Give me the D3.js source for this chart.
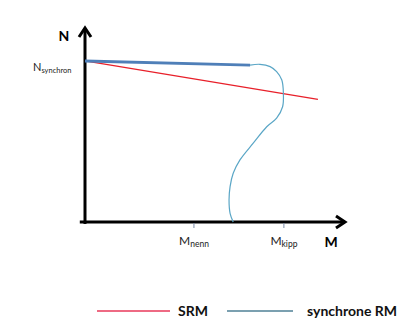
<!DOCTYPE html>
<html><head><meta charset="utf-8">
<script src="https://cdn.jsdelivr.net/npm/d3@7"></script>
<style>body{margin:0;background:#fff}text{font-family:Lato,"Open Sans",sans-serif}</style>
</head><body><div id="c"></div>
<script>
// Data (abstract units: M on x 0..100, N on y 0..100)
const nSynchron = 83;
const xTicks = [{v:41.9, main:"M", sub:"nenn"}, {v:76.5, main:"M", sub:"kipp"}];
const srmX = [0, 89.6];
const srmY = [83, 63.2];
const syncLineX = [0, 63.5];
const syncLineY = [83, 80.9];
const syncCurveX = [63.5,67.3,71.2,73.7,75.7,76.3,76.0,73.7,69.9,64.7,59.6,57.0,55.8,55.4,55.8,57.0];
const syncCurveY = [80.9,81.3,80.1,77.5,73.2,66.3,59.4,53.5,49.1,40.6,32.0,25.1,18.2,11.3,4.5,0];
const legendLabels = ["SRM","synchrone RM"];

const W=420,H=323;
const svg=d3.select("#c").append("svg").attr("width",W).attr("height",H);
const x=d3.scaleLinear().domain([0,100]).range([85,345]);
const y=d3.scaleLinear().domain([0,100]).range([222,28]);

// axes
svg.append("line").attr("x1",x(-2)).attr("x2",x(100)).attr("y1",y(0)).attr("y2",y(0)).attr("stroke","#000").attr("stroke-width",3);
svg.append("line").attr("x1",x(0)).attr("x2",x(0)).attr("y1",y(-1)).attr("y2",y(100)).attr("stroke","#000").attr("stroke-width",3);
svg.append("path").attr("d",`M${x(100)-9},${y(0)-6}L${x(100)},${y(0)}L${x(100)-9},${y(0)+6}`).attr("fill","none").attr("stroke","#000").attr("stroke-width",3);
svg.append("path").attr("d",`M${x(0)-6},${y(100)+9}L${x(0)},${y(100)}L${x(0)+6},${y(100)+9}`).attr("fill","none").attr("stroke","#000").attr("stroke-width",3);

// ticks
xTicks.forEach(t=>{
  svg.append("line").attr("x1",x(t.v)).attr("x2",x(t.v)).attr("y1",y(0)+1).attr("y2",y(0)+6).attr("stroke","#7a8aa6").attr("stroke-width",1);
  const tx=svg.append("text").attr("x",x(t.v)).attr("y",y(0)+23).attr("text-anchor","middle").attr("font-size",12).attr("fill","#222");
  tx.append("tspan").text(t.main);
  tx.append("tspan").attr("font-size",8.5).attr("dy",2).text(t.sub);
});
// axis labels
svg.append("text").attr("x",x(100)-14).attr("y",y(0)+25).attr("font-size",14).attr("font-weight","bold").attr("text-anchor","middle").text("M");
svg.append("text").attr("x",x(0)-21).attr("y",y(100)+13).attr("font-size",14).attr("font-weight","bold").attr("text-anchor","middle").text("N");
const ns=svg.append("text").attr("x",x(0)-52).attr("y",y(nSynchron)+10).attr("font-size",11).attr("fill","#222");
ns.append("tspan").text("N");
ns.append("tspan").attr("font-size",7.5).attr("dy",2).text("synchron");

const line=d3.line().x(d=>x(d[0])).y(d=>y(d[1]));
svg.append("path").attr("d",line(d3.zip(srmX,srmY))).attr("fill","none").attr("stroke","#e8202a").attr("stroke-width",1.3);
svg.append("path").attr("d",line(d3.zip(syncLineX,syncLineY))).attr("fill","none").attr("stroke","#4f7fb8").attr("stroke-width",2.8);
const curve=d3.line().x(d=>x(d[0])).y(d=>y(d[1])).curve(d3.curveCatmullRom);
svg.append("path").attr("d",curve(d3.zip(syncCurveX,syncCurveY))).attr("fill","none").attr("stroke","#5aa6c6").attr("stroke-width",1.2);

// legend
const leg=[{c:"#e8385a",x1:97,x2:170,tx:178},{c:"#4f8096",x1:227,x2:293,tx:307}];
leg.forEach((l,i)=>{
  svg.append("line").attr("x1",l.x1).attr("x2",l.x2).attr("y1",311).attr("y2",311).attr("stroke",l.c).attr("stroke-width",1.3);
  svg.append("text").attr("x",l.tx).attr("y",316).attr("font-size",14).attr("font-weight","bold").attr("fill","#111").text(legendLabels[i]);
});
</script></body></html>
